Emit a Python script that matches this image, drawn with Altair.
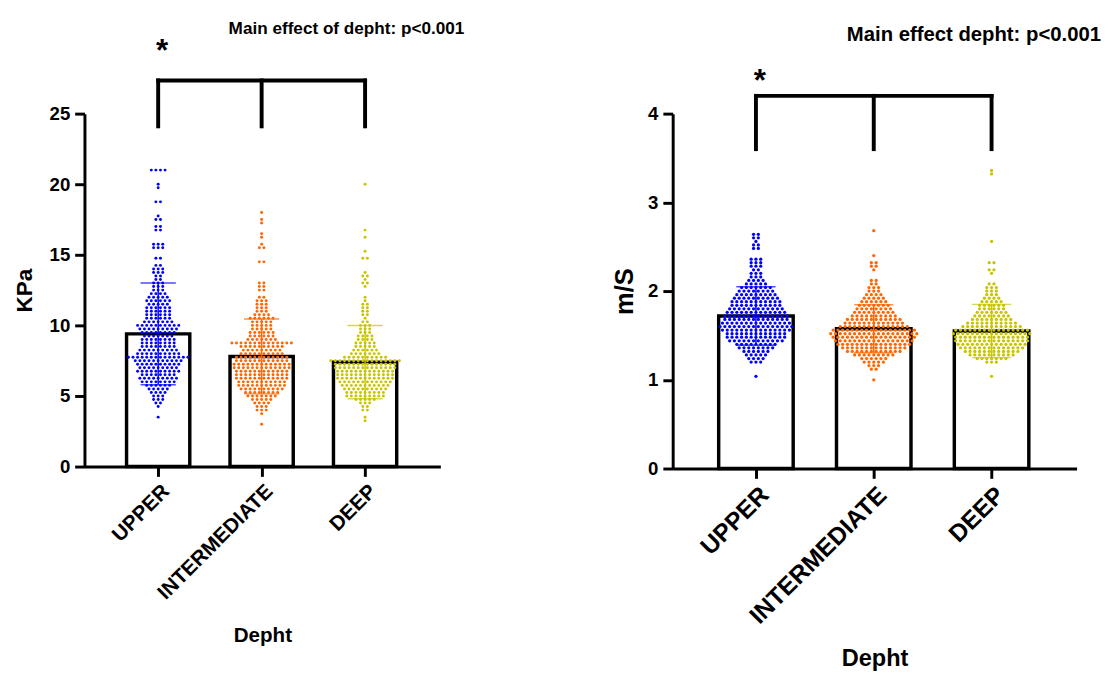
import altair as alt
import pandas as pd

categories = ["UPPER", "INTERMEDIATE", "DEEP"]
colors = ["#0000FF", "#FF6600", "#C8C400"]
cat_pos = [1, 2, 3]

# ---------- Panel 1: KPa ----------
kpa_mean = [9.4, 7.8, 7.4]
kpa_sd = [3.6, 2.65, 2.6]

kpa_upper_vals = [3.5, 4.25, 4.5, 4.75, 5.0, 5.25, 5.5, 5.75, 6.0, 6.25, 6.5, 6.75, 7.0, 7.25, 7.5, 7.75,
                  8.0, 8.25, 8.5, 8.75, 9.0, 9.25, 9.5, 9.75, 10.0, 10.25, 10.5, 10.75, 11.0, 11.25, 11.5,
                  11.75, 12.0, 12.25, 12.5, 12.75, 13.0, 13.25, 13.5, 13.75, 14.0, 14.25, 14.75, 15.5,
                  15.75, 16.75, 17.0, 17.5, 17.75, 18.75, 19.75, 20.0, 21.0]
kpa_upper_counts = [1, 1, 2, 3, 3, 4, 5, 6, 8, 9, 8, 10, 9, 10, 11, 14,
                    10, 9, 8, 8, 8, 7, 8, 9, 10, 7, 6, 6, 6, 6, 5,
                    6, 5, 4, 3, 3, 3, 2, 2, 3, 3, 2, 2, 3,
                    3, 2, 2, 2, 1, 2, 1, 1, 4]

kpa_inter_vals = [3.0, 3.75, 4.0, 4.25, 4.5, 4.75, 5.0, 5.25, 5.5, 5.75, 6.0, 6.25, 6.5, 6.75, 7.0, 7.25,
                  7.5, 7.75, 8.0, 8.25, 8.5, 8.75, 9.0, 9.25, 9.5, 9.75, 10.0, 10.25, 10.5, 10.75, 11.0,
                  11.25, 11.5, 11.75, 12.0, 12.5, 12.75, 13.0, 14.5, 15.5, 15.75, 16.25, 16.5, 17.25,
                  17.5, 18.0]
kpa_inter_counts = [1, 1, 3, 3, 4, 5, 7, 8, 10, 11, 11, 12, 12, 12, 13, 13,
                    12, 12, 10, 9, 10, 14, 7, 6, 6, 5, 5, 5, 6, 4, 3,
                    3, 3, 3, 2, 2, 2, 2, 2, 2, 1, 1, 1, 1,
                    1, 1]

kpa_deep_vals = [3.25, 3.5, 4.0, 4.25, 4.5, 4.75, 5.0, 5.25, 5.5, 5.75, 6.0, 6.25, 6.5, 6.75, 7.0, 7.25,
                 7.5, 7.75, 8.0, 8.25, 8.5, 8.75, 9.0, 9.25, 9.5, 9.75, 10.0, 10.25, 10.5, 10.75, 11.0,
                 11.25, 11.5, 11.75, 12.0, 12.75, 13.0, 13.25, 13.5, 13.75, 14.75, 15.25, 16.25, 16.75,
                 20.0]
kpa_deep_counts = [1, 1, 2, 2, 3, 5, 9, 9, 10, 11, 12, 13, 13, 13, 14, 14,
                   16, 10, 7, 6, 5, 5, 4, 4, 3, 3, 3, 2, 1, 2, 2,
                   2, 2, 1, 1, 1, 2, 1, 2, 1, 2, 1, 1, 1,
                   1]

kpa_bracket_bottom = 24.1
kpa_bracket_top = 27.35
kpa_star_y = 29.4
kpa_note_y = 31.0
kpa_note = "Main effect of depht: p<0.001"

# ---------- Panel 2: m/S ----------
ms_mean = [1.72, 1.575, 1.55]
ms_sd = [0.33, 0.27, 0.30]

ms_upper_vals = [1.04, 1.20, 1.24, 1.28, 1.32, 1.36, 1.40, 1.44, 1.48, 1.52, 1.56, 1.60, 1.64, 1.68,
                 1.72, 1.76, 1.80, 1.84, 1.88, 1.92, 1.96, 2.00, 2.04, 2.08, 2.12, 2.16, 2.20, 2.24,
                 2.28, 2.32, 2.36, 2.48, 2.52, 2.56, 2.60, 2.64]
ms_upper_counts = [1, 3, 4, 5, 6, 8, 9, 12, 13, 13, 15, 16, 15, 14,
                   14, 13, 12, 11, 11, 10, 9, 8, 7, 5, 4, 3, 3, 2,
                   3, 3, 3, 2, 2, 1, 2, 2]

ms_inter_vals = [1.00, 1.12, 1.16, 1.20, 1.24, 1.28, 1.32, 1.36, 1.40, 1.44, 1.48, 1.52, 1.56, 1.60,
                 1.64, 1.68, 1.72, 1.76, 1.80, 1.84, 1.88, 1.92, 1.96, 2.00, 2.04, 2.08, 2.12, 2.24,
                 2.28, 2.32, 2.40, 2.68]
ms_inter_counts = [1, 2, 3, 5, 6, 9, 12, 14, 16, 17, 18, 19, 18, 15,
                   13, 12, 10, 9, 8, 7, 6, 5, 4, 3, 3, 2, 2, 1,
                   2, 2, 1, 1]

ms_deep_vals = [1.04, 1.20, 1.24, 1.28, 1.32, 1.36, 1.40, 1.44, 1.48, 1.52, 1.56, 1.60, 1.64, 1.68,
                1.72, 1.76, 1.80, 1.84, 1.88, 1.92, 1.96, 2.00, 2.04, 2.08, 2.20, 2.24, 2.32, 2.56,
                3.32, 3.36]
ms_deep_counts = [1, 3, 7, 10, 12, 14, 15, 16, 16, 17, 16, 13, 11, 9,
                  8, 7, 6, 6, 5, 4, 3, 3, 3, 2, 1, 2, 2, 1,
                  1, 1]

ms_bracket_bottom = 3.6
ms_bracket_top = 4.2
ms_star_y = 4.37
ms_note_y = 4.89
ms_note = "Main effect depht: p<0.001"

FONT = "Liberation Sans"
X_DOMAIN = [0.335, 3.68]


def swarm_frame(groups, spacing):
    rows = []
    for cat, p, (vals, cnts) in zip(categories, cat_pos, groups):
        for v, n in zip(vals, cnts):
            for i in range(n):
                rows.append({"cat": cat, "x": p + (i - (n - 1) / 2) * spacing, "value": v})
    return pd.DataFrame(rows)


def panel(groups, means, sds, ytitle, ydomain, yvalues, width, height, bar_w, dot_px, dot_size,
          cap_px, xlab_size, ytitle_size, xtitle_size, note, note_size, note_x,
          b_bot, b_top, star_y, note_y, xtitle_pad, ytitle_pad):
    step = width / (X_DOMAIN[1] - X_DOMAIN[0])
    pts = swarm_frame(groups, dot_px / step)
    bars = pd.DataFrame({"cat": categories, "pos": cat_pos, "mean": means, "sd": sds})
    bars["lo"] = bars["mean"] - bars["sd"]
    bars["hi"] = bars["mean"] + bars["sd"]

    xs = alt.Scale(domain=X_DOMAIN, nice=False, zero=False)
    ys = alt.Scale(domain=ydomain, nice=False, zero=True)
    cs = alt.Scale(domain=categories, range=colors)
    label_expr = " : ".join(
        [f"datum.value == {p} ? '{c}'" for p, c in zip(cat_pos[:-1], categories[:-1])]
    ) + f" : '{categories[-1]}'"
    xaxis = alt.Axis(values=cat_pos, labelExpr=label_expr, labelAngle=-45, title="Depht",
                     labelFontSize=xlab_size, titleFontSize=xtitle_size, titlePadding=xtitle_pad,
                     labelPadding=4, labelOverlap=False, labelFlush=False, labelLimit=0)
    yaxis = alt.Axis(values=yvalues, title=ytitle, titleFontSize=ytitle_size,
                     titlePadding=ytitle_pad, labelPadding=5, labelOverlap=False, labelFlush=False)

    def X(f):
        return alt.X(f, scale=xs, axis=xaxis)

    def Y(f):
        return alt.Y(f, scale=ys, axis=yaxis)

    bar_layer = alt.Chart(bars).mark_bar(width=bar_w, fill="white", stroke="black",
                                         strokeWidth=3.5).encode(x=X("pos:Q"), y=Y("mean:Q"))
    dots = alt.Chart(pts).mark_circle(size=dot_size, opacity=1).encode(
        x=X("x:Q"), y=Y("value:Q"),
        color=alt.Color("cat:N", scale=cs, legend=None),
    )
    err = alt.Chart(bars).mark_errorbar(ticks={"size": cap_px, "thickness": 1.5}, thickness=1.5).encode(
        x=X("pos:Q"), y=Y("lo:Q"), y2="hi:Q",
        color=alt.Color("cat:N", scale=cs, legend=None),
    )
    brk = pd.DataFrame({"pos": cat_pos, "bot": [b_bot] * 3, "top": [b_top] * 3})
    brk_v = alt.Chart(brk).mark_rule(color="black", strokeWidth=4, strokeCap="square").encode(
        x=X("pos:Q"), y=Y("bot:Q"), y2="top:Q",
    )
    brk_h = alt.Chart(pd.DataFrame({"a": [cat_pos[0]], "b": [cat_pos[-1]], "y": [b_top]})).mark_rule(
        color="black", strokeWidth=4, strokeCap="square").encode(
        x=X("a:Q"), x2="b:Q", y=Y("y:Q"),
    )
    star = alt.Chart(pd.DataFrame({"x": [cat_pos[0]], "y": [star_y], "t": ["*"]})).mark_text(
        font=FONT, fontWeight="bold", fontSize=32, color="black", dx=4, baseline="middle").encode(
        x=X("x:Q"), y=Y("y:Q"), text="t:N",
    )
    note_layer = alt.Chart(pd.DataFrame({"x": [note_x], "y": [note_y], "t": [note]})).mark_text(
        font=FONT, fontWeight="bold", fontSize=note_size, color="black", baseline="middle").encode(
        x=X("x:Q"), y=Y("y:Q"), text="t:N",
    )
    return alt.layer(bar_layer, dots, err, brk_v, brk_h, star, note_layer).properties(
        width=width, height=height)


left = panel(
    [(kpa_upper_vals, kpa_upper_counts), (kpa_inter_vals, kpa_inter_counts), (kpa_deep_vals, kpa_deep_counts)],
    kpa_mean, kpa_sd, "KPa", [0, 25], [0, 5, 10, 15, 20, 25],
    363, 360, 64.5, 4.8, 9, 36, 21, 23, 21, kpa_note, 17.5, 2.82,
    kpa_bracket_bottom, kpa_bracket_top, kpa_star_y, kpa_note_y, 22, 13,
)
right = panel(
    [(ms_upper_vals, ms_upper_counts), (ms_inter_vals, ms_inter_counts), (ms_deep_vals, ms_deep_counts)],
    ms_mean, ms_sd, "m/S", [0, 4], [0, 1, 2, 3, 4],
    412, 362, 76, 5.0, 11, 40, 25, 26, 24, ms_note, 20.7, 2.85,
    ms_bracket_bottom, ms_bracket_top, ms_star_y, ms_note_y, 19, 10,
)

chart = alt.hconcat(left, right, spacing=150).configure(
    background="white"
).configure_view(strokeWidth=0).configure_axis(
    domainColor="black", domainWidth=3, tickColor="black", tickWidth=3, tickSize=10,
    labelFont=FONT, labelFontWeight="bold", labelColor="black", labelFontSize=19,
    titleFont=FONT, titleFontWeight="bold", titleColor="black", grid=False,
)

chart.save("out.html", embed_options={"renderer": "svg", "actions": False})
